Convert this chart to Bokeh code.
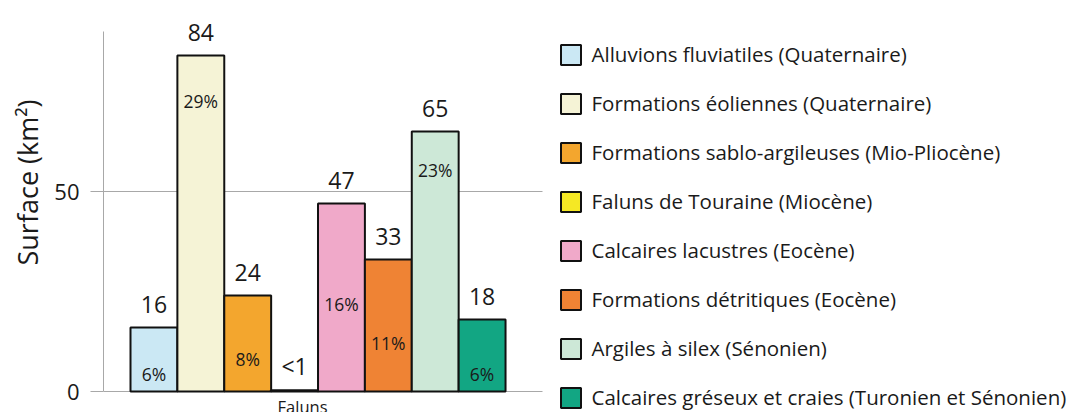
from bokeh.plotting import figure
from bokeh.models import (ColumnDataSource, Range1d, FixedTicker, LabelSet, Label,
                          Legend, LegendItem, Title)
from bokeh.core.properties import value
from bokeh.embed import file_html
from bokeh.resources import INLINE

# ---------------- data ----------------
categories = [
    "Alluvions fluviatiles (Quaternaire)",
    "Formations éoliennes (Quaternaire)",
    "Formations sablo-argileuses (Mio-Pliocène)",
    "Faluns de Touraine (Miocène)",
    "Calcaires lacustres (Eocène)",
    "Formations détritiques (Eocène)",
    "Argiles à silex (Sénonien)",
    "Calcaires gréseux et craies (Turonien et Sénonien)",
]
surface_km2 = [16, 84, 24, 0.3, 47, 33, 65, 18]
value_labels = ["16", "84", "24", "<1", "47", "33", "65", "18"]
share_labels = ["6%", "29%", "8%", "", "16%", "11%", "23%", "6%"]
y_ticks = [0, 50]
x_label_category = 3          # only category named under the axis
x_label_text = "Faluns"
y_axis_title = "Surface (km²)"

# ---------------- style / layout ----------------
colors = ["#cbe8f4", "#f5f3d6", "#f3a62e", "#f5e824",
          "#f0a9c9", "#ef8334", "#cde8d7", "#12a683"]
share_label_y = [4.5, 72.75, 8.25, 0, 22.0, 12.25, 55.5, 4.5]   # label anchor heights
FONT = "Open Sans"
TXT = "#1a1a1a"
GRID = "#a8a8a8"
X_LO, X_PLOT_HI, X_HI = -1.076, 8.28, 19.53   # plot area ends at X_PLOT_HI, legend beyond

idx = list(range(len(categories)))
src = ColumnDataSource(dict(x=idx, top=surface_km2, color=colors, vlab=value_labels))
keep = [i for i in idx if share_labels[i]]
psrc = ColumnDataSource(dict(x=[idx[i] for i in keep], y=[share_label_y[i] for i in keep],
                             t=[share_labels[i] for i in keep]))

p = figure(width=1069, height=412, x_range=Range1d(X_LO, X_HI), y_range=Range1d(-5.25, 93),
           output_backend="svg", toolbar_location=None, x_axis_location=None,
           min_border_left=103, min_border_right=0, min_border_top=19, min_border_bottom=0)
p.outline_line_color = None
p.xgrid.visible = False

p.yaxis.ticker = FixedTicker(ticks=y_ticks)
p.yaxis.bounds = (0, 90)
p.ygrid.ticker = FixedTicker(ticks=y_ticks)
p.ygrid.grid_line_color = GRID
try:
    p.ygrid.cross_bounds = (X_LO, X_PLOT_HI)
except Exception:
    p.ygrid.visible = False
    for t in y_ticks:
        p.segment(x0=X_LO, x1=X_PLOT_HI, y0=t, y1=t, line_color=GRID, line_width=1)
p.yaxis.axis_line_color = GRID
p.yaxis.major_tick_line_color = GRID
p.yaxis.major_tick_out = 13
p.yaxis.major_tick_in = 0
p.yaxis.minor_tick_line_color = None
p.yaxis.major_label_text_font = FONT
p.yaxis.major_label_text_font_size = "22px"
p.yaxis.major_label_text_color = TXT
p.yaxis.major_label_standoff = 11

p.add_layout(Title(text=y_axis_title, align="left", offset=147, standoff=11,
                   text_font=FONT, text_font_size="27px", text_font_style="normal",
                   text_color=TXT), "left")

r = p.vbar(x="x", top="top", width=1.0, source=src, fill_color="color",
           line_color="#111111", line_width=2)

p.add_layout(LabelSet(x="x", y="top", text="vlab", source=src, y_offset=15,
                      text_align="center", text_baseline="alphabetic",
                      text_font=value(FONT), text_font_size="23px", text_color=TXT))
p.add_layout(LabelSet(x="x", y="y", text="t", source=psrc,
                      text_align="center", text_baseline="middle",
                      text_font=value(FONT), text_font_size="17.5px", text_color=TXT))

p.add_layout(Label(x=x_label_category, y=0, text=x_label_text, x_offset=8, y_offset=-3,
                   text_align="center", text_baseline="top",
                   text_font=FONT, text_font_size="16.5px", text_color=TXT))

items = [LegendItem(label=categories[i], renderers=[r], index=i) for i in idx]
legend = Legend(items=items, location=(454.5, 0), glyph_width=25, glyph_height=25,
                label_text_font=FONT, label_text_font_size="20.5px", label_text_color=TXT,
                label_standoff=9, label_height=30, spacing=19, padding=0, margin=0,
                border_line_color=None, background_fill_alpha=0)
p.add_layout(legend)

open("out.html", "w").write(file_html(p, INLINE))
